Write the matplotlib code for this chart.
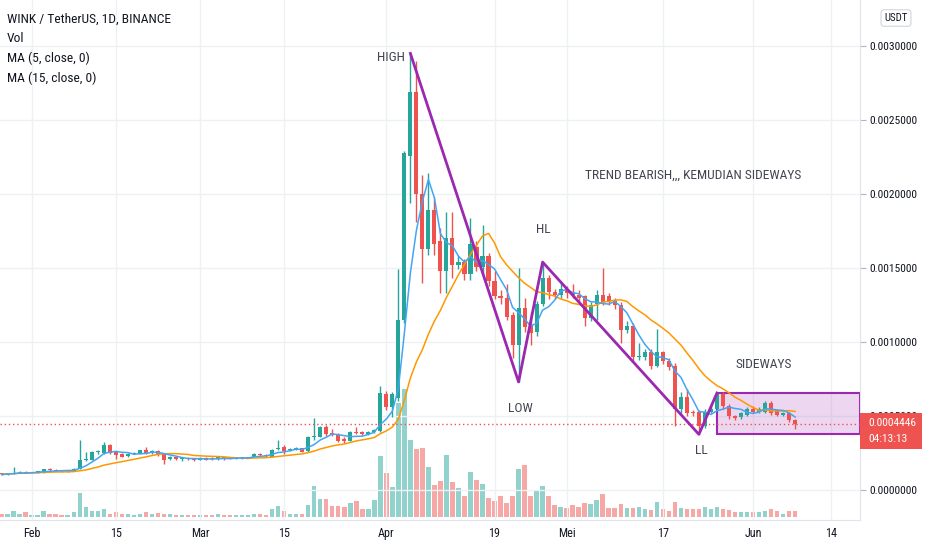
import matplotlib
matplotlib.use("Agg")
import matplotlib.pyplot as plt
import matplotlib.dates as mdates
from matplotlib import font_manager
from matplotlib.patches import Rectangle
import numpy as np
import pandas as pd

# narrow font like the TradingView screenshot, if there is one installed
names = {f.name for f in font_manager.fontManager.ttflist}
if "Liberation Sans Narrow" in names:
    font, k = "Liberation Sans Narrow", 1.0
elif "Roboto Condensed" in names:
    font, k = "Roboto Condensed", 0.97
else:
    font, k = "Liberation Sans", 0.86
plt.rcParams['font.family'] = [font, 'DejaVu Sans']

dates = pd.date_range("2021-01-27", "2021-06-08", freq="D")

# OHLC in units of 1e-4 USDT (Jan 27 .. Jun 8)
opens = [
    1.12, 1.06, 1.10, 1.16, 1.24,
    1.16, 1.20, 1.22, 1.40, 1.34, 1.30, 1.27, 1.30, 1.42, 2.05, 2.05, 2.55, 2.50, 3.04,
    2.60, 2.42, 2.28, 2.46, 2.46, 2.68, 2.48, 2.62, 2.46, 2.08, 2.22, 2.08, 2.14, 2.14,
    2.04, 2.16, 2.18, 2.10, 2.22, 2.18, 2.14, 2.18, 2.18, 2.24, 2.44, 2.36, 2.25, 2.75,
    2.93, 2.72, 2.76, 2.82, 2.62, 3.56, 3.60, 4.28, 3.87, 3.72, 3.42, 3.31, 3.94, 3.90,
    3.80, 3.90, 4.00,
    6.52, 5.63, 6.20, 11.5, 22.6, 26.9, 20.0, 16.3, 18.9, 16.8, 14.8, 17.0, 15.2, 15.4,
    14.6, 16.4, 15.1, 15.8, 14.1, 13.1, 13.0, 11.8, 9.8, 12.3, 11.1, 10.7, 12.6, 14.3,
    13.4, 13.2,
    13.6, 13.4, 13.2, 13.1, 11.6, 12.6, 13.2, 13.1, 12.8, 12.5, 10.8, 11.1, 9.0, 9.0,
    9.3, 8.4, 9.3, 8.7, 8.4, 5.5, 6.3, 5.3, 5.3, 4.3, 5.3, 5.5, 6.5, 5.7, 5.0, 4.9, 5.1,
    5.5, 5.3, 5.3, 5.9, 5.4, 5.1, 5.2, 4.7,
]
closes = [
    1.05, 1.10, 1.18, 1.22, 1.16,
    1.20, 1.22, 1.40, 1.34, 1.30, 1.27, 1.30, 1.42, 2.05, 2.10, 2.55, 2.57, 3.04, 2.52,
    2.36, 2.26, 2.46, 2.48, 2.68, 2.48, 2.64, 2.46, 2.05, 2.20, 2.10, 2.16, 2.12, 2.04,
    2.14, 2.06, 2.10, 2.22, 2.12, 2.12, 2.18, 2.19, 2.22, 2.46, 2.34, 2.30, 2.72, 2.84,
    2.66, 2.76, 2.82, 2.60, 3.56, 3.62, 4.28, 3.76, 3.72, 3.31, 3.31, 3.94, 3.83, 3.80,
    3.90, 4.05, 6.57,
    5.63, 6.49, 11.5, 22.8, 26.9, 20.0, 16.3, 18.9, 16.6, 14.8, 17.0, 15.2, 15.4, 14.6,
    16.6, 15.1, 15.8, 14.1, 13.1, 13.0, 11.7, 9.8, 12.3, 11.0, 10.6, 12.6, 14.3, 13.4,
    13.2, 13.6,
    13.3, 13.2, 13.0, 11.6, 12.5, 13.2, 12.7, 12.8, 12.5, 10.8, 11.1, 9.0, 9.05, 9.3,
    8.4, 9.3, 8.7, 8.3, 5.5, 6.3, 5.2, 5.2, 4.3, 5.3, 5.5, 6.5, 5.7, 5.0, 4.85, 5.2, 5.5,
    5.3, 5.5, 5.9, 5.2, 5.1, 5.2, 4.7, 4.446,
]
highs = [
    1.14, 1.12, 1.55, 1.26, 1.28,
    1.24, 1.26, 1.45, 1.46, 1.40, 1.33, 1.34, 1.48, 3.38, 2.60, 2.62, 2.68, 3.26, 3.10,
    2.65, 2.48, 2.50, 2.55, 2.72, 2.90, 2.70, 2.68, 2.50, 2.30, 2.26, 2.22, 2.20, 2.18,
    2.20, 2.20, 2.22, 2.28, 2.26, 2.24, 2.22, 2.22, 2.26, 2.50, 2.48, 2.40, 2.80, 3.38,
    3.04, 2.82, 2.88, 2.86, 3.62, 4.86, 4.35, 4.40, 4.10, 3.85, 3.55, 4.00, 4.28, 3.98,
    3.96, 4.12, 7.03,
    6.70, 6.60, 14.9, 22.9, 29.5, 29.0, 21.3, 21.4, 19.8, 17.7, 18.8, 18.8, 15.8, 15.6,
    18.4, 16.8, 17.9, 16.0, 14.8, 13.5, 13.9, 12.0, 15.0, 13.0, 12.0, 12.8, 15.4, 14.5,
    13.6, 14.0,
    13.8, 13.9, 13.5, 13.2, 12.7, 13.5, 15.0, 13.3, 13.0, 12.7, 11.4, 11.3, 9.9, 9.5,
    9.5, 10.9, 9.4, 8.9, 8.6, 6.6, 6.8, 5.4, 5.4, 5.5, 5.8, 6.6, 6.6, 5.8, 5.1, 5.3, 5.6,
    5.7, 5.6, 6.0, 6.0, 5.5, 5.3, 5.3, 4.8,
]
lows = [
    1.03, 1.04, 1.08, 1.12, 1.12,
    1.12, 1.16, 1.18, 1.30, 1.26, 1.24, 1.24, 1.28, 1.40, 1.95, 2.00, 2.45, 2.45, 2.45,
    2.10, 2.20, 2.24, 2.40, 2.42, 2.42, 2.44, 2.30, 1.75, 2.00, 2.05, 1.98, 2.06, 1.98,
    2.00, 2.00, 2.04, 2.06, 2.06, 2.08, 2.10, 2.12, 2.14, 2.20, 2.30, 2.26, 2.20, 2.70,
    2.40, 2.66, 2.70, 2.55, 2.55, 3.40, 3.55, 3.65, 3.65, 3.25, 3.20, 3.28, 3.78, 3.74,
    3.74, 3.85, 3.95,
    5.40, 4.95, 6.00, 11.3, 19.4, 18.1, 14.0, 15.9, 15.9, 13.3, 13.3, 14.3, 14.9, 14.2,
    14.2, 14.8, 14.6, 13.8, 12.9, 12.6, 11.5, 8.9, 7.3, 10.7, 9.8, 10.4, 12.4, 12.9,
    12.9, 13.0,
    13.0, 13.0, 12.8, 11.1, 11.4, 11.5, 12.5, 12.5, 12.2, 9.9, 10.6, 8.7, 8.8, 8.8,
    8.2, 8.3, 8.5, 8.1, 4.3, 5.2, 5.0, 5.0, 3.76, 4.2, 5.2, 5.4, 5.5, 4.8, 4.7, 4.8, 5.0,
    5.2, 5.2, 5.2, 5.1, 5.0, 5.0, 4.6, 4.1,
]
# volume, relative units
volume = [
    3.3, 3.3, 5.7, 3.3, 4.7,
    2.3, 2.3, 5.7, 3.3, 3.3, 2.3, 2.3, 4.7, 24, 9.7, 5.7, 5.7, 8, 3.3, 4.7, 3.3, 3.3,
    2.3, 3.3, 4.7, 3.3, 4, 3.3, 3.3, 2.3, 2.3, 2.3, 2.3,
    2.3, 2.3, 2.3, 3.3, 2.3, 2.3, 2.3, 2.3, 2.3, 3.3, 3.3, 2.3, 8, 10.7, 5.7, 3.3, 3.3,
    3.3, 12.3, 31, 18, 18, 10.7, 11.3, 10, 14, 15.7, 8, 8, 17.3, 61,
    44, 30, 114, 128, 77, 68, 69, 50, 32, 36, 62, 35, 29, 21, 45, 37, 33, 19, 16, 21,
    14, 21, 48, 52, 21, 27, 31, 21, 12, 10,
    9, 12, 10, 14, 13, 17, 23, 9, 9, 13, 9, 9, 10, 8, 6.7, 15, 8, 5.7, 15, 9, 8, 8, 8,
    10, 8, 10, 8, 6.7, 4.7, 4.7, 4.7,
    4.7, 4.7, 5.7, 8, 5.7, 3.3, 5.7, 5.7,
]

tick_dates = ["2021-02-01", "2021-02-15", "2021-03-01", "2021-03-15", "2021-04-01",
              "2021-04-19", "2021-05-01", "2021-05-17", "2021-06-01", "2021-06-14"]
tick_labels = ["Feb", "15", "Mar", "15", "Apr", "19", "Mei", "17", "Jun", "14"]
price_ticks = [0.0, 0.0005, 0.001, 0.0015, 0.002, 0.0025, 0.003]

# drawing: swing points and sideways box
swing_dates = ["2021-04-05", "2021-04-23", "2021-04-27", "2021-05-23", "2021-05-26"]
swing_prices = [0.00295, 0.00073, 0.00154, 0.000376, 0.000655]
box_start = "2021-05-26"
box_top, box_bottom = 0.000655, 0.000378

o = np.array(opens) * 1e-4
c = np.array(closes) * 1e-4
h = np.array(highs) * 1e-4
l = np.array(lows) * 1e-4
assert len(o) == len(c) == len(h) == len(l) == len(volume) == len(dates)

green, red = "#26a69a", "#ef5350"
up = c >= o
cols = np.where(up, green, red)
xs = mdates.date2num(dates)
feb1 = mdates.date2num(pd.Timestamp("2021-02-01"))

W, H = 932, 550
fig = plt.figure(figsize=(W / 100, H / 100), dpi=100)
rect = [0, 30 / H, 860 / W, 520 / H]
axv = fig.add_axes(rect)
ax = fig.add_axes(rect, sharex=axv)
ax.patch.set_visible(False)

# volume pane at the bottom
axv.bar(xs, volume, width=0.75, color=cols, alpha=0.5)
axv.set_ylim(-3, 517)
axv.set_yticks([])
for s in axv.spines.values():
    s.set_visible(False)
axv.tick_params(axis='x', length=0, labelbottom=False)

# candles
ax.vlines(xs, l, h, colors=cols, lw=1, zorder=2)
body = np.maximum(np.abs(c - o), 0.000006)
ax.bar(xs, body, bottom=np.minimum(o, c), width=0.68, color=cols, zorder=2)

ma5 = pd.Series(c).rolling(5, min_periods=1).mean()
ma15 = pd.Series(c).rolling(15, min_periods=1).mean()
ax.plot(xs, ma15, color="#ff9800", lw=1.1, zorder=3)
ax.plot(xs, ma5, color="#42a5f5", lw=1.1, zorder=3)

ax.axhline(c[-1], color=red, lw=1, ls=(0, (1, 2)), zorder=3)

# drawings
ax.plot(mdates.date2num(pd.to_datetime(swing_dates)), swing_prices, color="#9c27b0", lw=2, zorder=4)
x0 = mdates.date2num(pd.Timestamp(box_start))
x_right = feb1 + 137.8
ax.add_patch(Rectangle((x0, box_bottom), x_right - x0, box_top - box_bottom,
                       facecolor=(0.61, 0.15, 0.69, 0.18), edgecolor="#9c27b0", lw=1.5, zorder=1))

txt = dict(color="#434651", fontsize=10 * k, ha="center", va="center", zorder=5)
def px(xp, yp):
    return feb1 + (xp - 31.7) / 6.01, (490 - yp) / 148000
ax.text(*px(391, 57), "HIGH", **txt)
ax.text(*px(520, 408), "LOW", **txt)
ax.text(*px(543, 229), "HL", **txt)
ax.text(*px(701, 451), "LL", **txt)
ax.text(*px(693, 175), "TREND BEARISH,,, KEMUDIAN SIDEWAYS", **txt)
ax.text(*px(764, 365), "SIDEWAYS", **txt)

ax.set_xlim(feb1 - 5.27, x_right)
ax.set_ylim(-30 / 148000, 490 / 148000)
ax.set_xticks(mdates.date2num(pd.to_datetime(tick_dates)))
ax.set_xticklabels(tick_labels)
ax.set_yticks(price_ticks)
ax.set_yticklabels([f"{v:.7f}" for v in price_ticks])
ax.yaxis.tick_right()
ax.tick_params(axis='y', length=4, color="#b2b5be", labelsize=8.5 * k, labelcolor="#131722", pad=3)
ax.tick_params(axis='x', length=0, labelsize=9 * k, labelcolor="#131722", pad=5)
ax.grid(color="#eef0f4", lw=1)
ax.set_axisbelow(True)
for side in ["top", "left"]:
    ax.spines[side].set_visible(False)
ax.spines["right"].set_color("#e0e3eb")
ax.spines["bottom"].set_color("#e0e3eb")

# legend texts, top left
fs = 10 * k
fig.text(7 / W, 1 - 19 / H, "WINK / TetherUS, 1D, BINANCE", fontsize=fs, color="#131722", va="center")
fig.text(7 / W, 1 - 39 / H, "Vol", fontsize=fs, color="#131722", va="center")
fig.text(7 / W, 1 - 58 / H, "MA (5, close, 0)", fontsize=fs, color="#131722", va="center")
fig.text(7 / W, 1 - 78 / H, "MA (15, close, 0)", fontsize=fs, color="#131722", va="center")

fig.text(896 / W, 1 - 18 / H, "USDT", fontsize=8 * k, color="#131722", ha="center", va="center",
         bbox=dict(boxstyle="round,pad=0.3", fc="white", ec="#d1d4dc", lw=0.8))

# last price label
fig.patches.append(Rectangle((860 / W, 1 - 449 / H), 62 / W, 36 / H, transform=fig.transFigure,
                             facecolor=red, edgecolor="none", zorder=5))
fig.text(868 / W, 1 - 423 / H, f"{c[-1]:.7f}", fontsize=8.5 * k, color="white", va="center", zorder=6)
fig.text(868 / W, 1 - 439 / H, "04:13:13", fontsize=8.5 * k, color="white", va="center", zorder=6)

fig.savefig("out.png", dpi=100)
